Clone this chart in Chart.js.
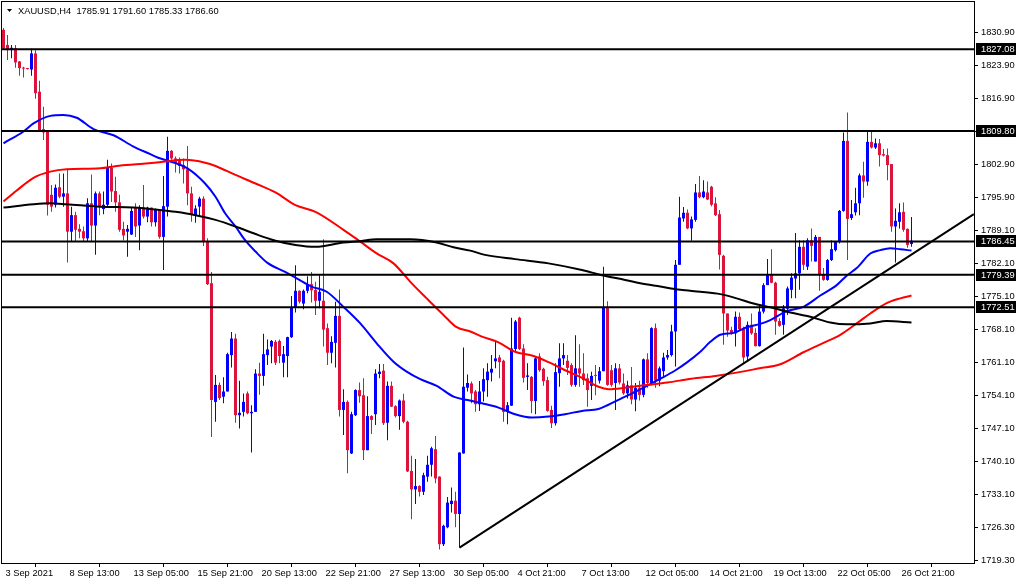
<!DOCTYPE html>
<html>
<head>
<meta charset="utf-8">
<title>XAUUSD,H4</title>
<script src="https://cdn.jsdelivr.net/npm/chart.js@4.4.1/dist/chart.umd.min.js"></script>
<style>
  html, body { margin: 0; padding: 0; background: #fff; }
  #wrap { width: 1020px; height: 584px; }
</style>
</head>
<body>
<div id="wrap"><canvas id="chart" width="1020" height="584"></canvas></div>
<script>
// XAUUSD H4 candles, 3 Sep 2021 .. 27 Oct 2021 (one entry per bar)
const symbol = 'XAUUSD,H4';

const opens = [
    1831.2, 1828.0, 1826.9, 1827.3, 1824.5, 1823.2, 1823.0, 1822.8, 1826.2, 1818.1,
    1810.2, 1809.6, 1796.3, 1794.2, 1797.9, 1795.9, 1796.6, 1788.5, 1792.0, 1789.1,
    1788.6, 1787.1, 1794.5, 1789.8, 1796.6, 1793.3, 1794.2, 1802.0, 1797.1, 1794.7,
    1789.1, 1788.5, 1787.9, 1793.6, 1789.8, 1793.6, 1791.7, 1793.6, 1790.5, 1793.1,
    1787.4, 1793.8, 1805.6, 1804.0, 1803.5, 1802.6, 1801.7, 1796.6, 1792.0, 1793.8,
    1795.5, 1786.4, 1777.6, 1752.5, 1756.1, 1753.6, 1754.7, 1762.4, 1765.9, 1749.7,
    1750.4, 1754.3, 1750.1, 1750.4, 1758.5, 1758.0, 1762.4, 1764.2, 1765.2, 1765.4,
    1760.8, 1762.2, 1766.2, 1772.5, 1776.0, 1773.3, 1776.0, 1777.4, 1776.2, 1773.9,
    1773.9, 1768.1, 1762.9, 1765.0, 1770.7, 1750.8, 1752.5, 1741.6, 1749.7, 1755.0,
    1753.9, 1742.3, 1749.5, 1749.9, 1758.4, 1759.1, 1748.1, 1755.9, 1751.6, 1749.5,
    1752.8, 1748.3, 1737.9, 1734.0, 1734.7, 1733.5, 1736.7, 1739.2, 1742.5, 1736.7,
    1722.4, 1726.0, 1730.9, 1731.6, 1728.8, 1741.6, 1755.5, 1756.4, 1754.7, 1752.0,
    1754.7, 1757.1, 1758.7, 1761.1, 1761.9, 1761.2, 1750.4, 1751.7, 1763.7, 1770.3,
    1763.8, 1757.8, 1757.8, 1752.7, 1762.1, 1759.5, 1757.1, 1750.8, 1748.0, 1758.6,
    1761.7, 1761.2, 1760.3, 1756.1, 1759.6, 1758.5, 1757.5, 1755.9, 1758.2, 1757.0,
    1759.0, 1772.4, 1759.2, 1756.5, 1759.6, 1756.4, 1754.3, 1756.0, 1753.0, 1755.5,
    1754.0, 1761.5, 1756.5, 1768.1, 1757.0, 1759.0, 1761.9, 1762.4, 1767.4, 1781.5,
    1791.3, 1792.5, 1789.2, 1791.0, 1796.8, 1795.8, 1796.8, 1798.0, 1794.5, 1792.2,
    1783.4, 1771.2, 1767.7, 1767.0, 1770.5, 1768.1, 1762.1, 1768.8, 1767.1, 1764.3,
    1771.6, 1777.2, 1779.3, 1777.7, 1769.6, 1768.8, 1772.2, 1776.2, 1778.6, 1779.7,
    1785.3, 1781.1, 1786.7, 1782.2, 1787.4, 1779.5, 1778.3, 1782.5, 1784.6, 1786.3,
    1792.9, 1807.7, 1791.4, 1792.6, 1794.5, 1800.4, 1799.1, 1807.5, 1806.3, 1807.2,
    1804.9, 1804.7, 1802.8, 1789.6, 1790.6, 1792.7, 1789.1, 1785.91
];
const highs = [
    1831.6, 1830.1, 1828.0, 1828.0, 1824.6, 1823.4, 1823.1, 1827.2, 1826.9, 1820.4,
    1814.9, 1809.6, 1798.4, 1798.5, 1800.8, 1800.8, 1801.8, 1793.8, 1792.7, 1790.1,
    1789.6, 1795.6, 1800.6, 1797.0, 1797.0, 1797.0, 1803.7, 1802.9, 1800.1, 1796.3,
    1790.6, 1789.9, 1793.6, 1794.5, 1794.1, 1798.4, 1793.8, 1793.6, 1793.4, 1793.3,
    1800.3, 1808.6, 1805.8, 1804.4, 1804.2, 1804.0, 1806.6, 1798.0, 1794.1, 1795.9,
    1796.0, 1787.1, 1780.0, 1758.2, 1756.6, 1757.7, 1762.9, 1767.3, 1766.9, 1757.0,
    1754.3, 1754.7, 1751.8, 1759.4, 1760.8, 1766.9, 1765.7, 1765.6, 1765.6, 1765.7,
    1764.3, 1766.3, 1774.9, 1781.4, 1776.1, 1776.3, 1779.1, 1780.0, 1777.9, 1779.3,
    1786.9, 1769.1, 1766.4, 1773.7, 1776.3, 1755.2, 1752.8, 1750.4, 1755.2, 1756.6,
    1757.5, 1753.7, 1749.7, 1759.4, 1760.5, 1760.5, 1756.8, 1756.8, 1751.8, 1753.0,
    1754.2, 1748.5, 1741.1, 1740.4, 1734.9, 1737.5, 1741.1, 1743.0, 1745.3, 1736.8,
    1726.5, 1732.4, 1734.4, 1733.5, 1741.8, 1764.0, 1758.3, 1756.8, 1755.0, 1756.9,
    1759.6, 1760.7, 1762.4, 1765.2, 1762.4, 1761.4, 1752.5, 1770.3, 1769.8, 1770.5,
    1764.7, 1760.7, 1758.0, 1762.1, 1762.8, 1759.7, 1757.8, 1751.7, 1760.7, 1764.9,
    1764.9, 1762.4, 1760.7, 1766.6, 1764.7, 1762.8, 1758.5, 1758.9, 1760.3, 1759.9,
    1781.1, 1773.8, 1760.3, 1760.7, 1760.5, 1758.5, 1757.0, 1759.9, 1756.5, 1757.0,
    1761.7, 1762.8, 1768.3, 1769.1, 1760.0, 1762.9, 1763.5, 1768.8, 1782.5, 1795.9,
    1793.7, 1793.2, 1791.7, 1798.6, 1800.3, 1799.4, 1799.1, 1798.2, 1795.8, 1793.1,
    1783.6, 1771.2, 1768.4, 1771.6, 1771.4, 1768.4, 1769.5, 1771.2, 1768.1, 1773.0,
    1777.6, 1782.7, 1784.8, 1777.9, 1770.2, 1773.0, 1776.9, 1779.7, 1788.2, 1786.7,
    1786.7, 1787.1, 1789.2, 1787.8, 1787.4, 1780.8, 1782.7, 1786.7, 1786.5, 1793.1,
    1809.5, 1813.7, 1795.2, 1797.8, 1800.8, 1803.3, 1809.8, 1809.7, 1808.2, 1808.1,
    1806.0, 1806.1, 1802.8, 1793.4, 1794.5, 1794.7, 1789.2, 1791.60
];
const lows = [
    1827.0, 1824.8, 1825.2, 1823.2, 1821.5, 1821.1, 1822.8, 1821.5, 1816.6, 1809.8,
    1807.9, 1791.9, 1792.7, 1793.6, 1795.6, 1793.8, 1782.0, 1786.4, 1786.5, 1787.1,
    1786.4, 1786.4, 1786.4, 1783.6, 1792.0, 1792.2, 1793.6, 1794.8, 1792.7, 1788.5,
    1786.7, 1783.2, 1787.8, 1787.4, 1784.6, 1791.3, 1790.5, 1789.6, 1789.6, 1787.0,
    1780.4, 1791.7, 1803.7, 1801.0, 1800.8, 1798.7, 1794.1, 1790.6, 1790.4, 1792.0,
    1785.5, 1777.2, 1745.1, 1748.3, 1752.9, 1752.2, 1754.7, 1759.8, 1748.1, 1746.9,
    1749.4, 1749.9, 1741.8, 1750.4, 1754.0, 1755.9, 1760.3, 1760.7, 1760.3, 1760.7,
    1757.7, 1757.7, 1766.0, 1771.4, 1773.3, 1772.1, 1775.5, 1773.5, 1770.9, 1772.3,
    1764.2, 1760.3, 1760.7, 1759.8, 1749.4, 1745.5, 1737.4, 1741.5, 1749.5, 1752.3,
    1740.2, 1742.3, 1745.7, 1747.6, 1757.5, 1747.6, 1744.4, 1751.4, 1749.2, 1746.6,
    1748.0, 1737.7, 1727.7, 1730.9, 1732.5, 1732.8, 1735.6, 1736.7, 1735.3, 1721.3,
    1722.0, 1725.8, 1729.1, 1726.0, 1721.7, 1741.6, 1754.7, 1752.2, 1750.4, 1750.6,
    1752.6, 1753.6, 1756.8, 1759.6, 1757.5, 1748.3, 1747.8, 1751.7, 1763.1, 1763.5,
    1756.6, 1755.0, 1750.1, 1749.9, 1758.9, 1755.9, 1750.4, 1747.0, 1747.5, 1755.7,
    1760.3, 1758.2, 1755.7, 1755.7, 1755.7, 1756.1, 1751.5, 1752.9, 1753.9, 1756.4,
    1759.0, 1755.9, 1755.7, 1750.8, 1756.2, 1754.0, 1753.2, 1752.0, 1750.5, 1752.8,
    1753.5, 1755.5, 1756.0, 1755.5, 1755.8, 1758.0, 1761.4, 1762.1, 1760.0, 1781.5,
    1790.6, 1789.0, 1786.6, 1790.6, 1795.6, 1795.6, 1795.2, 1793.9, 1791.8, 1780.5,
    1764.6, 1766.3, 1766.7, 1764.2, 1767.7, 1760.7, 1761.0, 1766.7, 1764.2, 1764.2,
    1771.2, 1777.2, 1777.6, 1766.7, 1768.4, 1766.7, 1770.9, 1774.4, 1774.4, 1776.2,
    1780.4, 1780.4, 1782.2, 1782.2, 1776.0, 1778.1, 1778.1, 1782.3, 1784.3, 1786.0,
    1792.7, 1782.5, 1791.0, 1791.9, 1792.0, 1795.7, 1798.2, 1806.1, 1806.0, 1802.3,
    1804.4, 1799.4, 1788.5, 1782.0, 1789.2, 1788.5, 1785.1, 1785.33
];
const closes = [
    1827.3, 1826.9, 1827.4, 1824.3, 1823.1, 1823.0, 1822.9, 1826.2, 1817.8, 1810.0,
    1809.5, 1794.2, 1793.8, 1797.8, 1795.9, 1796.6, 1788.5, 1792.0, 1788.9, 1788.5,
    1787.1, 1794.5, 1789.8, 1796.6, 1793.8, 1794.2, 1802.0, 1797.0, 1794.7, 1788.9,
    1787.7, 1789.1, 1792.9, 1789.6, 1793.6, 1791.7, 1793.6, 1790.5, 1793.1, 1787.4,
    1793.9, 1805.6, 1804.0, 1803.0, 1802.4, 1801.7, 1796.6, 1792.0, 1793.4, 1795.5,
    1786.4, 1777.4, 1752.9, 1756.1, 1753.3, 1754.7, 1762.6, 1765.9, 1749.7, 1750.2,
    1752.5, 1750.1, 1750.4, 1758.5, 1758.0, 1762.6, 1763.6, 1765.4, 1760.8, 1762.2,
    1762.6, 1766.2, 1772.5, 1776.0, 1773.7, 1776.0, 1777.4, 1776.1, 1773.9, 1775.8,
    1767.8, 1762.9, 1765.2, 1770.7, 1750.8, 1752.5, 1742.3, 1749.9, 1755.0, 1753.7,
    1742.3, 1749.5, 1748.7, 1758.5, 1758.9, 1748.0, 1755.9, 1751.5, 1749.5, 1752.8,
    1748.3, 1737.8, 1734.0, 1734.7, 1733.5, 1737.0, 1739.2, 1742.7, 1736.3, 1722.4,
    1726.3, 1731.2, 1731.6, 1728.8, 1741.8, 1755.7, 1756.5, 1754.3, 1752.0, 1754.7,
    1757.3, 1758.9, 1759.5, 1761.7, 1760.9, 1750.4, 1751.8, 1763.8, 1769.5, 1763.7,
    1757.6, 1758.1, 1752.7, 1761.7, 1759.2, 1756.9, 1750.6, 1748.0, 1758.8, 1761.7,
    1762.4, 1759.7, 1756.1, 1759.6, 1758.5, 1757.1, 1755.0, 1758.0, 1758.0, 1759.0,
    1772.4, 1756.1, 1756.1, 1759.6, 1756.6, 1754.3, 1756.0, 1753.0, 1755.5, 1754.0,
    1761.5, 1756.5, 1768.1, 1757.0, 1759.6, 1761.9, 1762.4, 1767.4, 1781.5, 1791.5,
    1792.5, 1789.2, 1791.1, 1796.8, 1795.8, 1797.0, 1795.3, 1794.2, 1792.0, 1783.6,
    1771.2, 1767.6, 1767.0, 1770.5, 1767.9, 1761.9, 1768.8, 1767.0, 1764.3, 1771.6,
    1777.2, 1779.3, 1777.7, 1769.5, 1768.6, 1772.3, 1776.5, 1778.8, 1779.7, 1785.3,
    1781.5, 1786.7, 1785.5, 1787.4, 1779.3, 1778.3, 1782.5, 1784.8, 1786.3, 1792.9,
    1807.7, 1791.2, 1792.2, 1794.5, 1800.4, 1799.1, 1807.5, 1806.3, 1807.2, 1804.7,
    1804.6, 1802.6, 1789.6, 1790.8, 1792.6, 1788.9, 1785.7, 1786.60
];

// moving averages at these bar positions
const maBlueX = [0, 5, 7.5, 11.7, 15, 18.3, 22.5, 27.5, 32.5, 36.7, 38.5, 43, 46, 50.4, 53, 55.4, 58, 60.4, 63, 66,
    70.4, 73.75, 77, 80.8, 85, 89.2, 93.3, 97.5, 100.8, 104.2, 108.3, 112.5, 116, 119.6, 123.75, 127.9, 132.1, 136.25,
    140.4, 144.6, 148.75, 151.25, 155.4, 160, 164, 168, 170.8, 174.2, 176.7, 179.2, 182.5, 185.8, 189.2, 191.7, 195.8,
    200, 204.2, 208.3, 210.8, 213.3, 216.7, 219.2, 221.7, 224.2, 227];
const maBlueY = [1807.2, 1809.7, 1811.4, 1813.0, 1813.2, 1812.6, 1810.2, 1808.9, 1806.5, 1804.9, 1804.2, 1803.0, 1801.9,
    1798.7, 1795.9, 1792.4, 1789.6, 1786.7, 1784.3, 1781.9, 1780.0, 1778.4, 1776.9, 1775.8, 1772.6, 1769.1, 1764.9,
    1761.0, 1758.9, 1757.3, 1755.9, 1753.6, 1752.9, 1752.2, 1751.3, 1749.9, 1749.2, 1749.4, 1749.9, 1750.6, 1751.0,
    1751.9, 1753.6, 1755.5, 1757.3, 1759.2, 1760.8, 1763.1, 1765.2, 1766.7, 1767.1, 1768.3, 1769.0, 1769.8, 1771.7,
    1772.6, 1775.0, 1777.2, 1779.2, 1780.8, 1783.9, 1784.6, 1785.0, 1784.8, 1784.5];

const maRedX = [0, 3.3, 7.5, 11.7, 15.8, 24.2, 28.3, 34.2, 39, 45.4, 50.4, 53, 58, 63, 68, 73, 78, 85, 89.2, 93.3,
    97.5, 101.7, 105.8, 110, 113.3, 116.7, 119.6, 123.75, 127.9, 132.1, 136.25, 140.4, 144.6, 148.75, 151.25, 155.4,
    160, 166, 172, 178, 184, 189, 194, 200, 205, 209.2, 213.3, 216.7, 220.8, 224.2, 227];
const maRedY = [1794.9, 1797.2, 1799.9, 1801.2, 1801.7, 1801.9, 1802.4, 1802.8, 1803.2, 1803.7, 1803.1, 1802.4, 1800.5,
    1798.7, 1796.8, 1794.1, 1792.7, 1788.9, 1786.4, 1783.9, 1781.8, 1777.9, 1774.4, 1770.9, 1768.3, 1767.4, 1766.3,
    1765.1, 1763.1, 1762.3, 1760.9, 1759.2, 1757.6, 1755.7, 1755.2, 1755.5, 1756.0, 1756.6, 1757.4, 1758.0, 1758.8,
    1759.6, 1760.4, 1763.0, 1765.0, 1766.7, 1769.1, 1771.2, 1773.4, 1774.4, 1775.0];

const maBlackX = [0, 7.5, 11.7, 15.8, 24.2, 32.5, 39, 43, 48, 53, 58, 63, 68, 73, 78, 85, 89.2, 93.3, 101.7, 108.3,
    112.5, 116.7, 120.4, 127.9, 136.25, 144.6, 149.6, 155.4, 159.2, 164.2, 169.2, 174.2, 179.2, 183.3, 187.5, 191.7,
    196.7, 201.7, 206.7, 210.8, 216.7, 220.8, 227];
const maBlackY = [1793.6, 1794.3, 1794.5, 1794.3, 1793.8, 1793.6, 1793.1, 1792.7, 1792.0, 1791.0, 1789.6, 1788.0,
    1786.6, 1785.7, 1785.3, 1786.2, 1786.5, 1786.9, 1786.9, 1786.2, 1785.2, 1784.5, 1783.6, 1782.7, 1781.8, 1780.4,
    1779.3, 1778.3, 1777.6, 1776.9, 1776.2, 1775.8, 1775.3, 1774.4, 1773.3, 1772.5, 1771.4, 1770.5, 1769.3, 1768.9,
    1769.1, 1769.6, 1769.3];

// horizontal levels and the rising trend line
const levels = [1827.08, 1809.80, 1786.45, 1779.39, 1772.51];
const trendX = [114, 242.6];
const trendY = [1721.7, 1792.2];

// axis labels
const xTickIdx = [0, 16, 32, 48, 64, 80, 96, 112, 128, 144, 160, 176, 192, 208, 224];
const xTickLabels = ['3 Sep 2021', '8 Sep 13:00', '13 Sep 05:00', '15 Sep 21:00', '20 Sep 13:00', '22 Sep 21:00',
    '27 Sep 13:00', '30 Sep 05:00', '4 Oct 21:00', '7 Oct 13:00', '12 Oct 05:00', '14 Oct 21:00', '19 Oct 13:00',
    '22 Oct 05:00', '26 Oct 21:00'];
const yTickLabels = ['1830.90', '1823.90', '1816.90', '1809.90', '1802.90', '1795.90', '1789.10', '1782.10',
    '1775.10', '1768.10', '1761.10', '1754.10', '1747.10', '1740.10', '1733.10', '1726.30', '1719.30'];

// ---- layout constants ----
const X_MIN = -0.375, X_MAX = 242.625;
const Y_MIN = 1718.43, Y_MAX = 1837.08;
const Y_TICK_TOP = 1830.67, Y_TICK_STEP = 6.976;
const UP = '#0000ff', DOWN = '#dc143c';
const FONT = "'Liberation Sans', Arial, sans-serif";
const FSIZE = 9.3;

const candleColor = ctx => closes[ctx.dataIndex] >= opens[ctx.dataIndex] ? UP : DOWN;
const pairs = (xs, ys) => xs.map((x, k) => ({ x: x, y: ys[k] }));

const wickData = opens.map((_, i) => ({ x: i, y: [lows[i], highs[i]] }));
const bodyData = opens.map((_, i) => ({ x: i, y: [opens[i], closes[i]] }));

function maSet(xs, ys, color) {
    return {
        type: 'line', data: pairs(xs, ys), borderColor: color, borderWidth: 2,
        pointRadius: 0, fill: false, cubicInterpolationMode: 'monotone', order: 1
    };
}

const datasets = [
    { type: 'bar', data: wickData, backgroundColor: candleColor, barThickness: 1, grouped: false,
      borderWidth: 0, inflateAmount: 0, order: 3 },
    { type: 'bar', data: bodyData, backgroundColor: candleColor, barThickness: 3, grouped: false,
      borderWidth: 0, inflateAmount: 0, minBarLength: 1, order: 2 },
    maSet(maBlackX, maBlackY, '#000000'),
    maSet(maRedX, maRedY, '#ff0000'),
    maSet(maBlueX, maBlueY, '#0000ff'),
    { type: 'line', data: pairs(trendX, trendY), borderColor: '#000', borderWidth: 2, pointRadius: 0, order: 0 }
];
levels.forEach(v => {
    datasets.push({ type: 'line', data: [{ x: X_MIN, y: v }, { x: X_MAX, y: v }], borderColor: '#000',
        borderWidth: 2, pointRadius: 0, order: 0 });
});

// frame, price boxes for the levels, and the symbol header
const overlay = {
    id: 'overlay',
    afterDraw(chart) {
        const { ctx, chartArea: a, scales } = chart;
        ctx.save();
        ctx.strokeStyle = '#000';
        ctx.lineWidth = 1;
        ctx.strokeRect(a.left - 0.5, a.top - 0.5, a.right - a.left + 1, a.bottom - a.top + 1);

        ctx.font = FSIZE + 'px ' + FONT;
        ctx.textBaseline = 'middle';
        ctx.textAlign = 'left';
        levels.forEach(v => {
            const y = Math.round(scales.y.getPixelForValue(v));
            ctx.fillStyle = '#000';
            ctx.fillRect(a.right + 2, y - 6, 40, 12);
            ctx.fillStyle = '#fff';
            ctx.fillText(v.toFixed(2), a.right + 7, y + 0.5);
        });

        const n = opens.length - 1;
        ctx.fillStyle = '#000';
        ctx.beginPath();
        ctx.moveTo(7, 9); ctx.lineTo(12, 9); ctx.lineTo(9.5, 12); ctx.closePath();
        ctx.fill();
        ctx.font = '9.3px ' + FONT;
        ctx.textBaseline = 'alphabetic';
        const head = symbol + '  ' + [opens[n], highs[n], lows[n], closes[n]].map(v => v.toFixed(2)).join(' ');
        ctx.fillText(head, 18, 14);
        ctx.restore();
    }
};

new Chart(document.getElementById('chart'), {
    type: 'bar',
    data: { datasets: datasets },
    options: {
        responsive: false,
        animation: false,
        events: [],
        devicePixelRatio: 1,
        layout: { padding: { left: 2, top: 2, right: 0, bottom: 0 } },
        plugins: { legend: { display: false }, tooltip: { enabled: false } },
        scales: {
            x: {
                type: 'linear', min: X_MIN, max: X_MAX, offset: false, bounds: 'data',
                afterBuildTicks: s => { s.ticks = xTickIdx.map(v => ({ value: v })); },
                afterFit: s => { s.height = 21; s.paddingLeft = 0; s.paddingRight = 0; },
                ticks: {
                    autoSkip: false, maxRotation: 0, minRotation: 0, align: 'start', labelOffset: 2, padding: 1,
                    color: '#000', font: { family: FONT, size: FSIZE },
                    callback: (v, k) => xTickLabels[k]
                },
                grid: { drawOnChartArea: false, drawTicks: true, tickLength: 4, color: '#000' },
                border: { display: true, color: '#000', width: 1 }
            },
            y: {
                type: 'linear', position: 'right', min: Y_MIN, max: Y_MAX, bounds: 'data',
                afterBuildTicks: s => { s.ticks = yTickLabels.map((t, k) => ({ value: Y_TICK_TOP - k * Y_TICK_STEP })); },
                afterFit: s => { s.width = 46; s.paddingTop = 0; s.paddingBottom = 0; },
                ticks: {
                    autoSkip: false, padding: 3, color: '#000', font: { family: FONT, size: FSIZE },
                    callback: (v, k) => yTickLabels[k]
                },
                grid: { drawOnChartArea: false, drawTicks: true, tickLength: 4, color: '#000' },
                border: { display: true, color: '#000', width: 1 }
            }
        }
    },
    plugins: [overlay]
});
</script>
</body>
</html>
